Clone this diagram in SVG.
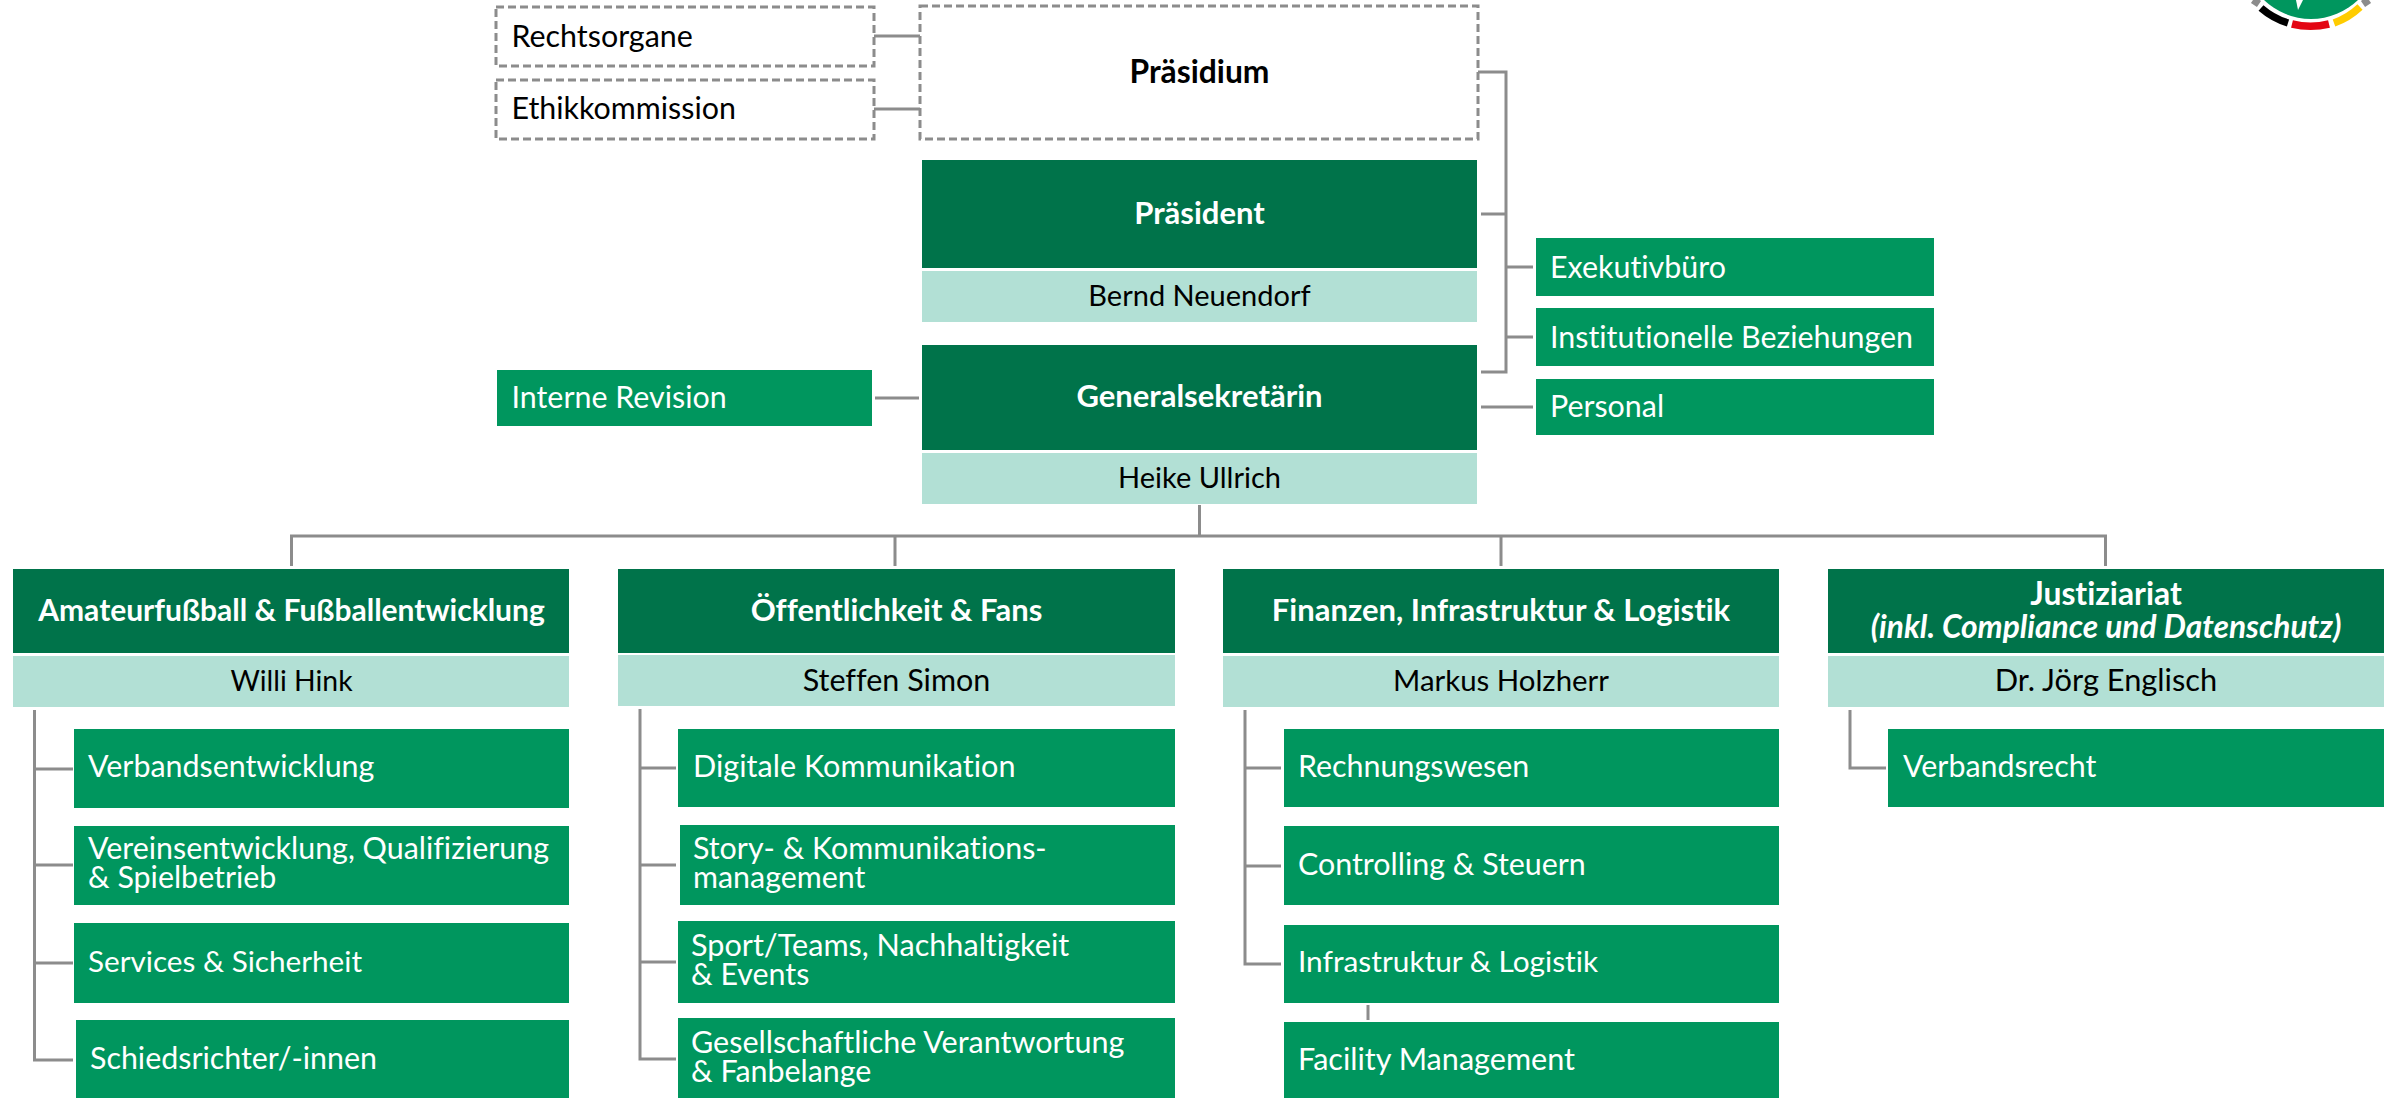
<svg xmlns="http://www.w3.org/2000/svg" width="2389" height="1098" viewBox="0 0 2389 1098">
<style>
text{font-family:Lato,"Noto Sans",sans-serif;font-size:30.4px;font-variant-ligatures:none}
.d{fill:#00734a}.m{fill:#00965e}.l{fill:#b2e0d5}
.b{fill:#fff;stroke:#8c8c8c;stroke-width:3;stroke-dasharray:8 4}
.w{fill:#fff}.k{fill:#000}.h{font-weight:700;font-size:31px;text-anchor:middle}.c{text-anchor:middle}
#conn path{fill:none;stroke:#8c8c8c;stroke-width:3}
</style>
<rect width="2389" height="1098" fill="#fff"/>
<g id="logo" fill="none" stroke-width="7.5">
<circle cx="2311" cy="-48.6" r="67.6" fill="#00965e"/>
<path d="M2253 0L2259 4" stroke="#8c8c8c"/><path d="M2369 0L2363 4" stroke="#8c8c8c"/>
<path d="M2261 8A75 75 0 0 0 2288 23" stroke="#000"/>
<path d="M2292 24A75 75 0 0 0 2329 24" stroke="#e30613"/>
<path d="M2334 23A75 75 0 0 0 2360 7" stroke="#ffcc00"/>
<path d="M2296 0L2303 0L2298 10Z" fill="#fff" stroke="none"/>
</g>
<g id="conn">
<path d="M873 36H920M873 109H920"/>
<path d="M1478 72H1506V372H1481M1481 214H1506M1506 267H1533M1506 337H1533"/>
<path d="M1481 407H1533M875 398H919"/>
<path d="M1199.5 505V536M291.5 566V536H2105.5V566M895 536V566M1501 536V566"/>
<path d="M34.5 710V1060H73M34.5 769H73M34.5 865H73M34.5 963H73"/>
<path d="M640 709V1059H676M640 768H676M640 865H676M640 962H676"/>
<path d="M1245 710V964H1281M1245 768H1281M1245 866H1281"/>
<path d="M1368 1005V1020"/>
<path d="M1850 710V768H1886"/>
</g>
<g id="rechtsorgane"><rect class="b" x="496" y="7" width="378" height="59"/><text class="k" x="511.5" y="47">Rechtsorgane</text></g>
<g id="ethikkommission"><rect class="b" x="496" y="80" width="378" height="59"/><text class="k" x="511.5" y="119">Ethikkommission</text></g>
<g id="praesidium"><rect class="b" x="920" y="6" width="558" height="133"/><text class="k h" x="1199.5" y="83" style="font-size:31.8px">Präsidium</text></g>
<g id="praesident"><rect class="d" x="922" y="160" width="555" height="108"/><text class="w h" x="1199.5" y="224">Präsident</text><rect class="l" x="922" y="271" width="555" height="51"/><text class="k c" x="1199.5" y="306" style="font-size:29px">Bernd Neuendorf</text></g>
<g id="generalsekretaerin"><rect class="d" x="922" y="345" width="555" height="105"/><text class="w h" x="1199.5" y="407">Generalsekretärin</text><rect class="l" x="922" y="453" width="555" height="51"/><text class="k c" x="1199.5" y="488" style="font-size:29px">Heike Ullrich</text></g>
<g id="interne-revision"><rect class="m" x="497" y="370" width="375" height="56"/><text class="w" x="511.5" y="408">Interne Revision</text></g>
<g id="exekutivbuero"><rect class="m" x="1536" y="238" width="398" height="58"/><text class="w" x="1550" y="277.5">Exekutivbüro</text></g>
<g id="institutionelle"><rect class="m" x="1536" y="308" width="398" height="58"/><text class="w" x="1550" y="347.5">Institutionelle Beziehungen</text></g>
<g id="personal"><rect class="m" x="1536" y="379" width="398" height="56"/><text class="w" x="1550" y="417">Personal</text></g>
<g id="amateur"><rect class="d" x="13" y="569" width="556" height="84"/><text class="w h" x="291.5" y="621" style="font-size:30px">Amateurfußball &amp; Fußballentwicklung</text><rect class="l" x="13" y="656" width="556" height="51"/><text class="k c" x="291.5" y="691" style="font-size:28.4px">Willi Hink</text></g>
<g id="oeffentlichkeit"><rect class="d" x="618" y="569" width="557" height="84"/><text class="w h" x="896.5" y="621">Öffentlichkeit &amp; Fans</text><rect class="l" x="618" y="655" width="557" height="51"/><text class="k c" x="896.5" y="691" style="font-size:30.5px">Steffen Simon</text></g>
<g id="finanzen"><rect class="d" x="1223" y="569" width="556" height="84"/><text class="w h" x="1501" y="621">Finanzen, Infrastruktur &amp; Logistik</text><rect class="l" x="1223" y="656" width="556" height="51"/><text class="k c" x="1501" y="691" style="font-size:29.4px">Markus Holzherr</text></g>
<g id="justiziariat"><rect class="d" x="1828" y="569" width="556" height="84"/><text class="w h" x="2106" y="605" style="font-size:31.8px">Justiziariat</text><text class="w h" x="2106" y="638" font-style="italic" style="font-size:31.7px">(inkl. Compliance und Datenschutz)</text><rect class="l" x="1828" y="656" width="556" height="51"/><text class="k c" x="2106" y="691" style="font-size:30.8px">Dr. Jörg Englisch</text></g>
<g id="verbandsentwicklung"><rect class="m" x="74" y="729" width="495" height="79"/><text class="w" x="88" y="777">Verbandsentwicklung</text></g>
<g id="vereinsentwicklung"><rect class="m" x="74" y="826" width="495" height="79"/><text class="w" x="88" y="859">Vereinsentwicklung, Qualifizierung</text><text class="w" x="88" y="888">&amp; Spielbetrieb</text></g>
<g id="services"><rect class="m" x="74" y="923" width="495" height="80"/><text class="w" x="88" y="972" style="font-size:29.7px">Services &amp; Sicherheit</text></g>
<g id="schiedsrichter"><rect class="m" x="76" y="1020" width="493" height="78"/><text class="w" x="90" y="1069">Schiedsrichter/-innen</text></g>
<g id="digitale"><rect class="m" x="678" y="729" width="497" height="78"/><text class="w" x="693" y="777" style="font-size:30.6px">Digitale Kommunikation</text></g>
<g id="story"><rect class="m" x="680" y="825" width="495" height="80"/><text class="w" x="693" y="859">Story- &amp; Kommunikations-</text><text class="w" x="693" y="888">management</text></g>
<g id="sport"><rect class="m" x="678" y="921" width="497" height="82"/><text class="w" x="691" y="956" style="font-size:30.6px">Sport/Teams, Nachhaltigkeit</text><text class="w" x="691" y="985">&amp; Events</text></g>
<g id="gesellschaft"><rect class="m" x="678" y="1018" width="497" height="80"/><text class="w" x="691" y="1053" style="font-size:30.5px">Gesellschaftliche Verantwortung</text><text class="w" x="691" y="1082">&amp; Fanbelange</text></g>
<g id="rechnungswesen"><rect class="m" x="1284" y="729" width="495" height="78"/><text class="w" x="1298" y="777">Rechnungswesen</text></g>
<g id="controlling"><rect class="m" x="1284" y="826" width="495" height="79"/><text class="w" x="1298" y="875">Controlling &amp; Steuern</text></g>
<g id="infrastruktur"><rect class="m" x="1284" y="925" width="495" height="78"/><text class="w" x="1298" y="972" style="font-size:29.8px">Infrastruktur &amp; Logistik</text></g>
<g id="facility"><rect class="m" x="1284" y="1022" width="495" height="76"/><text class="w" x="1298" y="1070" style="font-size:30.6px">Facility Management</text></g>
<g id="verbandsrecht"><rect class="m" x="1888" y="729" width="496" height="78"/><text class="w" x="1903" y="777">Verbandsrecht</text></g>
</svg>
